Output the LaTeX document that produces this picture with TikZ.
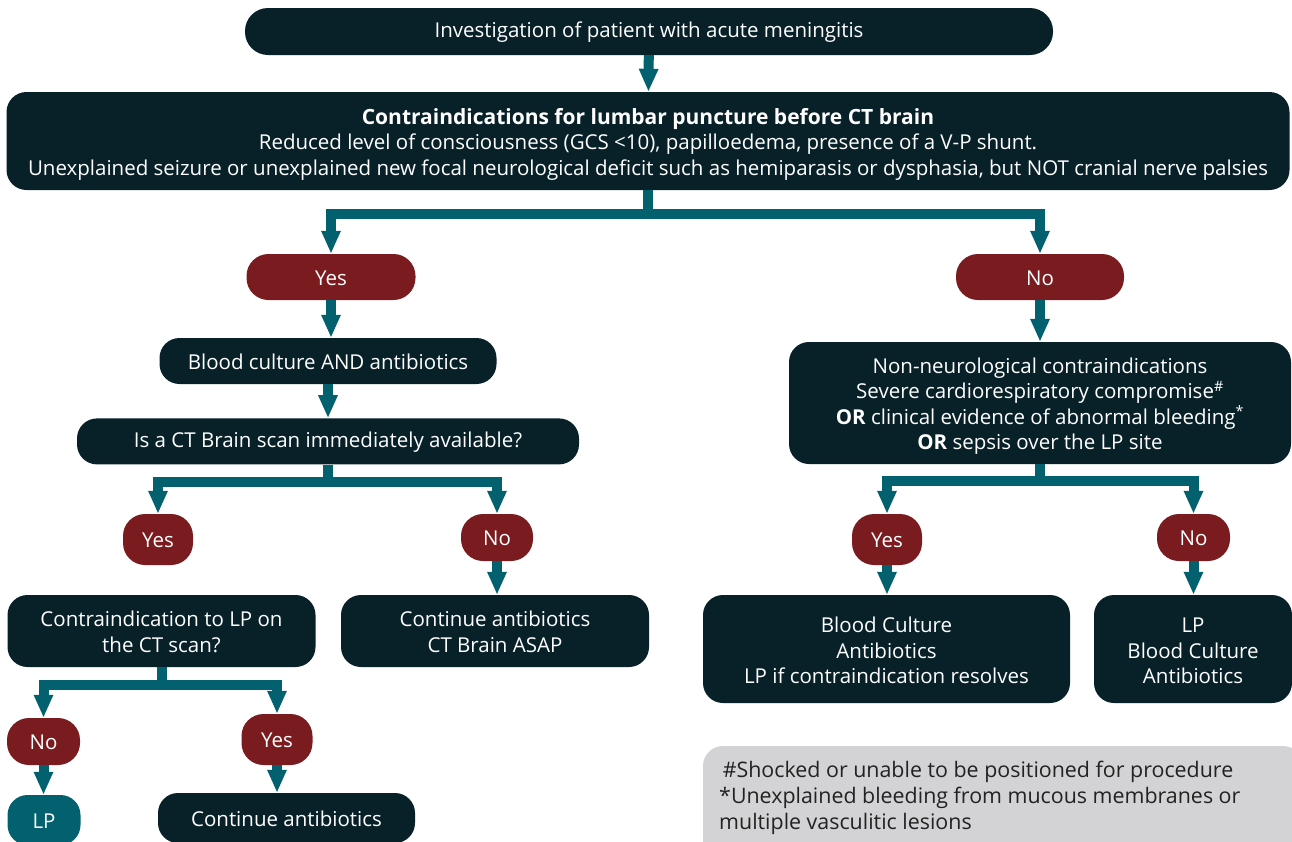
\documentclass[tikz,border=0pt]{standalone}
\usepackage{fontspec}
\setmainfont{Open Sans}
\usepackage{tikz}
\usetikzlibrary{arrows.meta}
\usetikzlibrary{positioning}

\definecolor{boxdark}{HTML}{082129}
\definecolor{choicered}{HTML}{7A1C1F}
\definecolor{lineteal}{HTML}{03616F}
\definecolor{notegray}{HTML}{D3D3D5}
\definecolor{notetext}{HTML}{222222}

\newcommand{\boxfont}{\fontsize{20.5}{25.5}\selectfont}
\newcommand{\boxstrut}[1][16.5pt]{\rule{0pt}{#1}}

\tikzset{
  box/.style={fill=boxdark, text=white, rounded corners=20pt, align=center, inner sep=0pt, font=\boxfont, execute at begin node=\boxstrut},
  pill/.style={fill=choicered, text=white, rounded corners=22pt, align=center, inner sep=0pt, font=\boxfont, execute at begin node=\boxstrut},
  conn/.style={draw=lineteal, line width=10pt, -{Triangle[length=23pt,width=18pt]}},
}

\begin{document}
\begin{tikzpicture}[x=1pt, y=1pt]
  \useasboundingbox (0,0) rectangle (1292,-841);
  \clip (0,0) rectangle (1292,-841);

  \node (itop) [box, rounded corners=23pt, minimum width=808pt, minimum height=47pt] at (649,-31.5) {Investigation of patient with acute meningitis};
  \node (imain) [box, minimum width=1283pt, minimum height=98pt] at (648,-141) {\boxstrut[22pt]{\fontsize{21}{25.5}\selectfont\bfseries Contraindications for lumbar puncture before CT brain}\\Reduced level of consciousness (GCS <10), papilloedema, presence of a V-P shunt.\\Unexplained seizure or unexplained new focal neurological deficit such as hemiparasis or dysphasia, but NOT cranial nerve palsies};

  % left branch
  \node (iyesA) [pill, minimum width=169pt, minimum height=46pt] at (331,-277) {Yes};
  \node (iblood) [box, minimum width=337pt, minimum height=46pt] at (328,-361) {Blood culture AND antibiotics};
  \node (ictq) [box, minimum width=502pt, minimum height=46pt, below=34pt of iblood] {Is a CT Brain scan immediately available?};
  \node (iyesB) [pill, minimum width=70pt, minimum height=51pt] at (158,-539.5) {Yes};
  \node (inoB) [pill, minimum width=72pt, minimum height=47pt] at (497,-537.5) {No};
  \node (ictlp) [box, minimum width=308pt, minimum height=72pt] at (161.5,-631) {\boxstrut[17.6pt]Contraindication to LP on\\the CT scan?};
  \node (icont1) [box, minimum width=308pt, minimum height=72pt] at (495,-631) {\boxstrut[17.6pt]Continue antibiotics\\CT Brain ASAP};
  \node (inoC) [pill, minimum width=73pt, minimum height=47pt] at (43.5,-741.5) {No};
  \node (iyesC) [pill, minimum width=71pt, minimum height=51pt] at (277,-739.5) {Yes};
  \node (ilp) [box, fill=lineteal, minimum width=73pt, minimum height=50pt] at (44,-820) {LP};
  \node (icont2) [box, minimum width=257pt, minimum height=50pt] at (286.5,-818) {Continue antibiotics};

  % right branch
  \node (inoA) [pill, minimum width=168pt, minimum height=46pt] at (1040,-277) {No};
  \node (inn) [box, minimum width=502pt, minimum height=122pt] at (1040,-403) {\boxstrut[21.6pt]Non-neurological contraindications\\Severe cardiorespiratory compromise\textsuperscript{\#}\\\textbf{OR} clinical evidence of abnormal bleeding\textsuperscript{*}\\\textbf{OR} sepsis over the LP site};
  \node (iyesD) [pill, minimum width=70pt, minimum height=51pt] at (887,-539.5) {Yes};
  \node (inoD) [pill, minimum width=73pt, minimum height=47pt] at (1193.5,-537.5) {No};
  \node (ibc) [box, minimum width=367pt, minimum height=108pt] at (886.5,-649) {\boxstrut[18.6pt]Blood Culture\\Antibiotics\\LP if contraindication resolves};
  \node (ilpb) [box, minimum width=198pt, minimum height=108pt] at (1193,-649) {\boxstrut[18.6pt]LP\\Blood Culture\\Antibiotics};

  % footnote
  \node (inote) [fill=notegray, rounded corners=20pt, minimum width=600pt, minimum height=116pt, inner sep=0pt] at (1003,-804) {};
  \node (inotetext) [text=notetext, align=left, anchor=north west, inner sep=0pt, font=\fontsize{21.4}{26}\selectfont] at (719,-761) {\,\#Shocked or unable to be positioned for procedure\\*Unexplained bleeding from mucous membranes or\\multiple vasculitic lesions};

  \draw [conn] (itop) -- (imain);
  \draw [conn] (imain.south) -- ++(0,-24) -| (iyesA.north);
  \draw [conn] (imain.south) -- ++(0,-24) -| (inoA.north);
  \draw [conn] (iyesA.south) -- (iyesA.south |- iblood.north);
  \draw [conn] (iblood) -- (ictq);
  \draw [conn] (ictq.south) -- ++(0,-17) -| (iyesB.north);
  \draw [conn] (ictq.south) -- ++(0,-17) -| (inoB.north);
  \draw [conn] (inoB.south) -- (inoB.south |- icont1.north);
  \draw [conn] (ictlp.south) -- ++(0,-17.5) -| (inoC.north);
  \draw [conn] (ictlp.south) -- ++(0,-17.5) -| (iyesC.north);
  \draw [conn] (inoC.south) -- (inoC.south |- ilp.north);
  \draw [conn] (iyesC.south) -- (iyesC.south |- icont2.north);
  \draw [conn] (inoA) -- (inn);
  \draw [conn] (inn.south) -- ++(0,-17) -| (iyesD.north);
  \draw [conn] (inn.south) -- ++(0,-17) -| (inoD.north);
  \draw [conn] (iyesD.south) -- (iyesD.south |- ibc.north);
  \draw [conn] (inoD.south) -- (inoD.south |- ilpb.north);
\end{tikzpicture}
\end{document}
